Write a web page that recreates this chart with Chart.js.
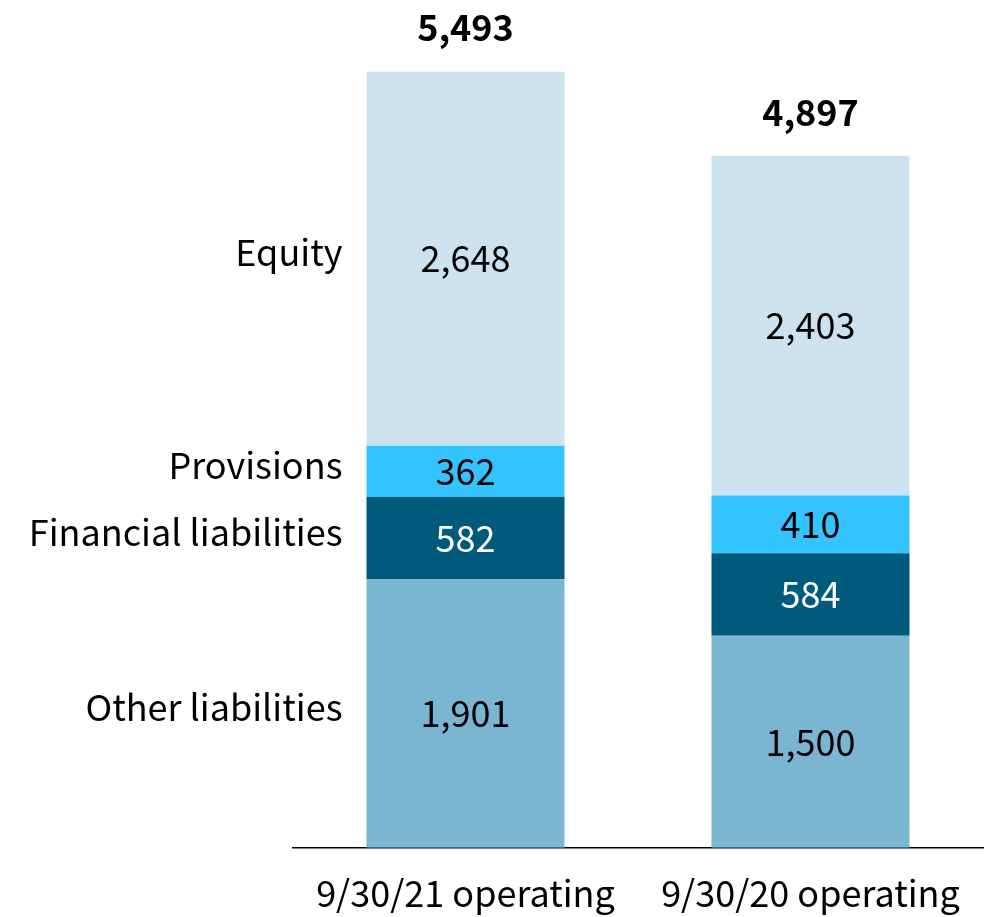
<!DOCTYPE html>
<html>
<head>
<meta charset="utf-8">
<script src="https://cdn.jsdelivr.net/npm/chart.js@4"></script>
<style>
    html, body { margin: 0; padding: 0; background: #fff; }
    #wrap { width: 994px; height: 917px; }
</style>
</head>
<body>
<div id="wrap"><canvas id="chart" width="994" height="917"></canvas></div>
<script>
// Dane
const categories = ['9/30/21 operating', '9/30/20 operating'];
const otherLiabilities = [1901, 1500];
const financialLiabilities = [582, 584];
const provisions = [362, 410];
const equity = [2648, 2403];
const totals = [5493, 4897];

const FONT = '"Noto Sans CJK JP", "Noto Sans", sans-serif';
const SIZE = 36;

const series = [
    { label: 'Other liabilities', data: otherLiabilities, color: '#7ab5d2', text: '#000' },
    { label: 'Financial liabilities', data: financialLiabilities, color: '#005a7b', text: '#fff' },
    { label: 'Provisions', data: provisions, color: '#33c4ff', text: '#000' },
    { label: 'Equity', data: equity, color: '#cce3ef', text: '#000' }
];

const fmt = v => v.toLocaleString('en-US');

// Etykiety wartości, sumy i nazwy serii po lewej
const labelsPlugin = {
    id: 'labels',
    afterDatasetsDraw(chart) {
        const ctx = chart.ctx;
        ctx.save();
        ctx.textBaseline = 'middle';
        chart.data.datasets.forEach((ds, di) => {
            const meta = chart.getDatasetMeta(di);
            meta.data.forEach((bar, i) => {
                const mid = (bar.y + bar.base) / 2;
                ctx.font = SIZE + 'px ' + FONT;
                ctx.fillStyle = series[di].text;
                ctx.textAlign = 'center';
                ctx.fillText(fmt(ds.data[i]), bar.x, mid);
            });
            // nazwa serii przy pierwszym słupku
            const first = meta.data[0];
            ctx.font = SIZE + 'px ' + FONT;
            ctx.fillStyle = '#000';
            ctx.textAlign = 'right';
            ctx.fillText(ds.label, first.x - first.width / 2 - 24, (first.y + first.base) / 2 - 6);
        });
        const top = chart.getDatasetMeta(chart.data.datasets.length - 1);
        top.data.forEach((bar, i) => {
            ctx.font = 'bold ' + SIZE + 'px ' + FONT;
            ctx.fillStyle = '#000';
            ctx.textAlign = 'center';
            ctx.fillText(fmt(totals[i]), bar.x, bar.y - 44);
        });
        ctx.restore();
    }
};

new Chart(document.getElementById('chart'), {
    type: 'bar',
    data: {
        labels: categories,
        datasets: series.map(s => ({
            label: s.label,
            data: s.data,
            backgroundColor: s.color,
            borderWidth: 0,
            barPercentage: 1,
            categoryPercentage: 0.574
        }))
    },
    options: {
        responsive: false,
        animation: false,
        layout: { padding: { left: 293, right: 11, top: 0, bottom: -22 } },
        plugins: { legend: { display: false }, tooltip: { enabled: false } },
        scales: {
            x: {
                stacked: true,
                grid: { display: false, drawTicks: false },
                border: { display: true, color: '#000', width: 1.5 },
                ticks: { color: '#000', font: { size: SIZE, family: FONT }, padding: 24 }
            },
            y: {
                stacked: true,
                display: false,
                min: 0,
                max: 6000
            }
        }
    },
    plugins: [labelsPlugin]
});
</script>
</body>
</html>
